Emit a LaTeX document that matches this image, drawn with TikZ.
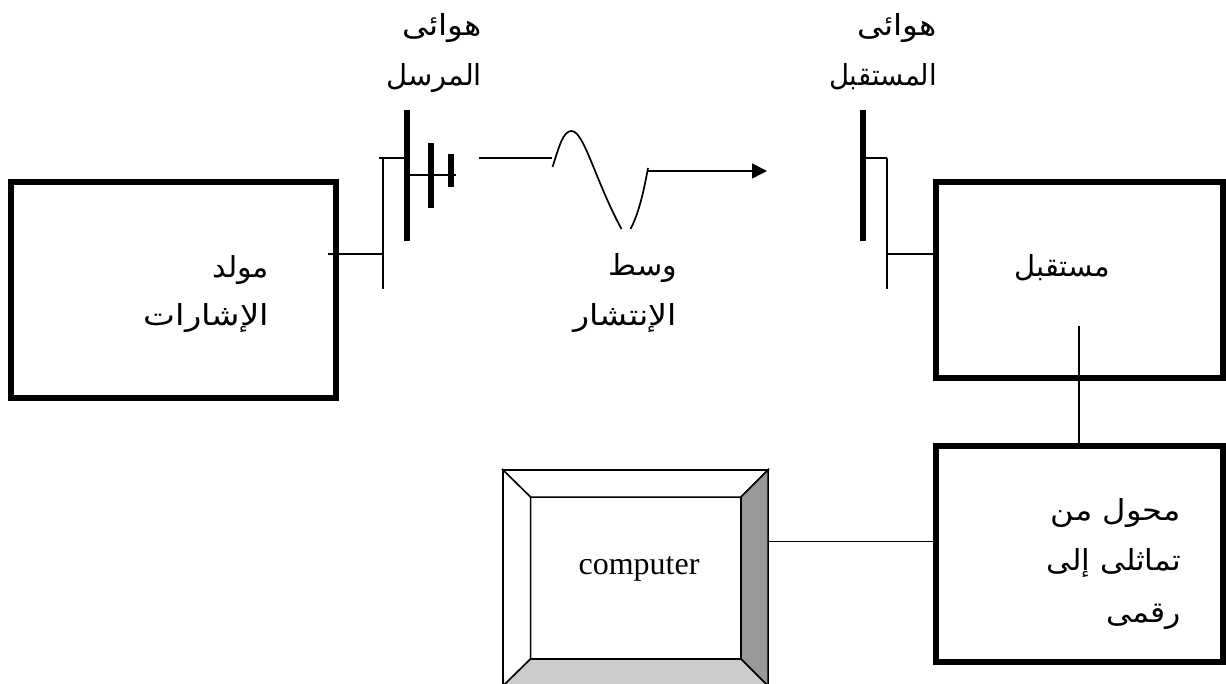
\documentclass[tikz,border=0pt]{standalone}
\usepackage{fontspec}
\setmainfont{Liberation Serif}
\newfontfamily\arabicfont[Script=Arabic]{DejaVu Sans}
\TeXXeTstate=1
\usetikzlibrary{arrows.meta}
\tikzset{
  x=1pt,y=-1pt,
  blockbox/.style={draw=black,line width=6pt,fill=white,inner sep=0pt,outer sep=0pt,anchor=north west},
  wire/.style={draw=black,line width=1.5pt},
  plate/.style={draw=black,line width=6pt},
  wave/.style={draw=black,line width=1.7pt},
  artext/.style={font=\fontsize{29}{29}\selectfont\arabicfont,inner sep=0pt,outer sep=0pt,anchor=base east},
  bevel/.style={draw=black,line width=1.5pt,line join=miter},
}
\begin{document}
\begin{tikzpicture}
\useasboundingbox (0,0) rectangle (1226,684);
% blocks
\node[blockbox,minimum width=324.5pt,minimum height=216pt] (gen) at (11,182) {};
\node[blockbox,minimum width=287.5pt,minimum height=196pt] (rx) at (935.5,182) {};
\node[blockbox,minimum width=287.5pt,minimum height=216pt] (adc) at (935.5,446) {};
% computer
\begin{scope}
\clip (0,0) rectangle (1226,684);
\node[draw=black,line width=1.5pt,fill=white,inner sep=0pt,outer sep=0pt,anchor=north west,minimum width=265pt,minimum height=216pt] (pcout) at (503,470) {};
\node[draw=black,line width=1.5pt,fill=white,inner sep=0pt,outer sep=0pt,anchor=north west,minimum width=210.5pt,minimum height=162pt] (pc) at (530.5,497) {};
\path[bevel,fill=white] (pcout.north west) -- (pcout.north east) -- (pc.north east) -- (pc.north west) -- cycle;
\path[bevel,fill=white] (pcout.north west) -- (pc.north west) -- (pc.south west) -- (pcout.south west) -- cycle;
\path[bevel,fill=black!40] (pcout.north east) -- (pc.north east) -- (pc.south east) -- (pcout.south east) -- cycle;
\path[bevel,fill=black!20] (pcout.south west) -- (pc.south west) -- (pc.south east) -- (pcout.south east) -- cycle;
\end{scope}
\node[font=\fontsize{32}{32}\selectfont,inner sep=0pt,anchor=base] (pclabel) at (639,574) {computer};
% transmitter antenna
\coordinate (ta1) at (407,110); \coordinate (ta2) at (407,241);
\coordinate (tb1) at (431,143); \coordinate (tb2) at (431,208);
\coordinate (tc1) at (451,154); \coordinate (tc2) at (451,187);
\coordinate (tend) at (456,175);
\coordinate (tfeedTop) at (383,158); \coordinate (tfeedBot) at (383,289);
\coordinate (tfeedMid) at (383,254); \coordinate (genOut) at (328,254);
\coordinate (tstub) at (379,158);
\draw[wire] (ta1 |- tend) -- (tend);
\draw[wire] (tstub) -- (ta1 |- tfeedTop);
\draw[wire] (tfeedTop) -- (tfeedBot);
\draw[wire] (genOut) -- (tfeedMid);
\draw[plate] (ta1) -- (ta2);
\draw[plate] (tb1) -- (tb2);
\draw[plate] (tc1) -- (tc2);
% wave
\coordinate (w0) at (479,158); \coordinate (w1) at (552,158);
\draw[wire] (w0) -- (w1);
\draw[wave] (552.5,167) .. controls (559,147) and (563,131) .. (571.5,131)
  .. controls (584,131) and (595,180) .. (621.5,229);
\draw[wave] (630.5,229) .. controls (639,213) and (644,190) .. (648,168);
\coordinate (a0) at (648,171); \coordinate (a1) at (767,171);
\draw[wire,-{Triangle[length=15pt,width=15pt]}] (a0) -- (a1);
% receiver antenna
\coordinate (ra1) at (863,110); \coordinate (ra2) at (863,241);
\coordinate (rfeedTop) at (887,158); \coordinate (rfeedBot) at (887,289);
\coordinate (rfeedMid) at (887,254);
\draw[wire] (ra1 |- rfeedTop) -- (rfeedTop);
\draw[wire] (rfeedTop) -- (rfeedBot);
\draw[wire] (rfeedMid) -- (rx.west |- rfeedMid);
\draw[plate] (ra1) -- (ra2);
% links
\coordinate (rxIn) at (1079,326);
\draw[wire] (rxIn) -- (rxIn |- adc.north);
\draw[wire] (pcout.east |- 0,541.5) -- (adc.west |- 0,541.5);
% texts
\node[artext] (t1a) at (482,36) {\scalebox{1.13}[1]{\beginR هوائى\endR}};
\node[artext] (t1b) at (482,86) {\beginR المرسل\endR};
\node[artext] (t2a) at (937,36) {\scalebox{1.13}[1]{\beginR هوائى\endR}};
\node[artext] (t2b) at (937,86) {\scalebox{0.95}[1]{\beginR المستقبل\endR}};
\node[artext] (t3a) at (269,278) {\scalebox{1.04}[1]{\beginR مولد\endR}};
\node[artext] (t3b) at (269,326) {\scalebox{1.17}[1]{\beginR الإشارات\endR}};
\node[artext] (t4a) at (677,276) {\scalebox{1.04}[1]{\beginR وسط\endR}};
\node[artext] (t4b) at (677,326) {\scalebox{1.15}[1]{\beginR الإنتشار\endR}};
\node[artext] (t5) at (1110,277) {\beginR مستقبل\endR};
\node[artext] (t6a) at (1181,520) {\scalebox{1.11}[1]{\beginR محول من\endR}};
\node[artext] (t6b) at (1181,570) {\scalebox{1.07}[1]{\beginR تماثلى إلى\endR}};
\node[artext] (t6c) at (1181,622) {\scalebox{1.09}[1]{\beginR رقمى\endR}};
\end{tikzpicture}
\end{document}
